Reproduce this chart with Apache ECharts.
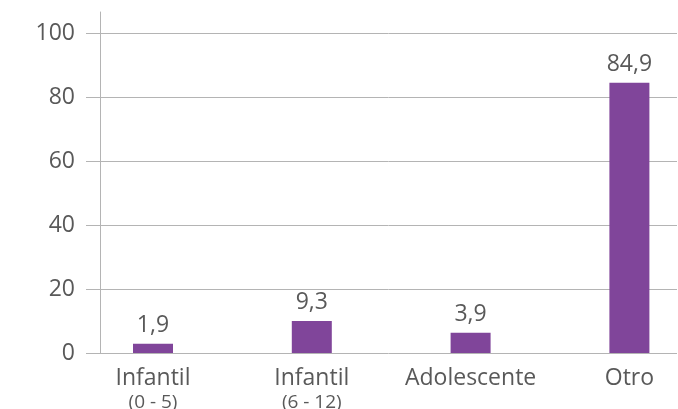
<!DOCTYPE html>
<html>
<head>
<meta charset="utf-8">
<script src="https://cdn.jsdelivr.net/npm/echarts@6/dist/echarts.min.js"></script>
<style>
  html, body { margin: 0; padding: 0; background: #fff; }
  #chart { width: 678px; height: 409px; }
</style>
</head>
<body>
<div id="chart"></div>
<script>
// categorias (segunda linea entre parentesis)
const categories = ['Infantil', 'Infantil', 'Adolescente', 'Otro']
const subLabels = ['(0 - 5)', '(6 - 12)', '', '']
// alturas de barra
const barValues = [2.9, 10, 6.3, 84.5]
// etiquetas de valor tal como aparecen
const valueLabels = ['1,9', '9,3', '3,9', '84,9']
const yTicks = [0, 20, 40, 60, 80, 100]

const font = '"Open Sans", "DejaVu Sans", sans-serif'
const textColor = '#595959'
const lineColor = '#b4b4b4'

const chart = echarts.init(document.getElementById('chart'), null, { renderer: 'canvas' })

const option = {
  animation: false,
  grid: [
    // rejilla del eje y (lineas, marcas y numeros)
    { left: 100, right: 1, top: 33, bottom: 56, outerBoundsMode: 'none', containLabel: false },
    // rejilla de las barras (se sale por la derecha, como el original recortado)
    { left: 73.6, right: -30.8, top: 12, bottom: 56, outerBoundsMode: 'none', containLabel: false }
  ],
  xAxis: [
    { gridIndex: 0, type: 'category', data: categories, show: false },
    {
      gridIndex: 1,
      type: 'category',
      data: categories,
      axisLine: { show: false },
      axisTick: { show: false },
      axisLabel: {
        margin: 12,
        interval: 0,
        formatter: (value, idx) => {
          const sub = subLabels[idx]
          return sub ? `{a|${value}}\n{b|${sub}}` : `{a|${value}}`
        },
        rich: {
          a: { fontFamily: font, fontSize: 23, color: textColor, lineHeight: 26 },
          b: { fontFamily: font, fontSize: 19, color: textColor, lineHeight: 23 }
        }
      }
    }
  ],
  yAxis: [
    {
      gridIndex: 0,
      type: 'value',
      min: yTicks[0],
      max: yTicks[yTicks.length - 1],
      interval: 20,
      axisLine: { show: false },
      axisTick: { show: true, inside: false, length: 14, lineStyle: { color: lineColor, width: 1 } },
      splitLine: { show: true, lineStyle: { color: lineColor, width: 1 } },
      axisLabel: { margin: 25, fontFamily: font, fontSize: 23, color: textColor }
    },
    {
      gridIndex: 1,
      type: 'value',
      min: 0,
      max: 106.6,
      offset: -26.4,
      axisLine: { show: true, lineStyle: { color: lineColor, width: 1 } },
      axisTick: { show: false },
      axisLabel: { show: false },
      splitLine: { show: false }
    }
  ],
  series: [{
    type: 'bar',
    xAxisIndex: 1,
    yAxisIndex: 1,
    data: barValues,
    barWidth: 40,
    itemStyle: { color: '#80459a' },
    label: {
      show: true,
      position: 'top',
      distance: 7,
      fontFamily: font,
      fontSize: 23,
      color: textColor,
      formatter: (p) => valueLabels[p.dataIndex]
    }
  }]
}

chart.setOption(option)
</script>
</body>
</html>
